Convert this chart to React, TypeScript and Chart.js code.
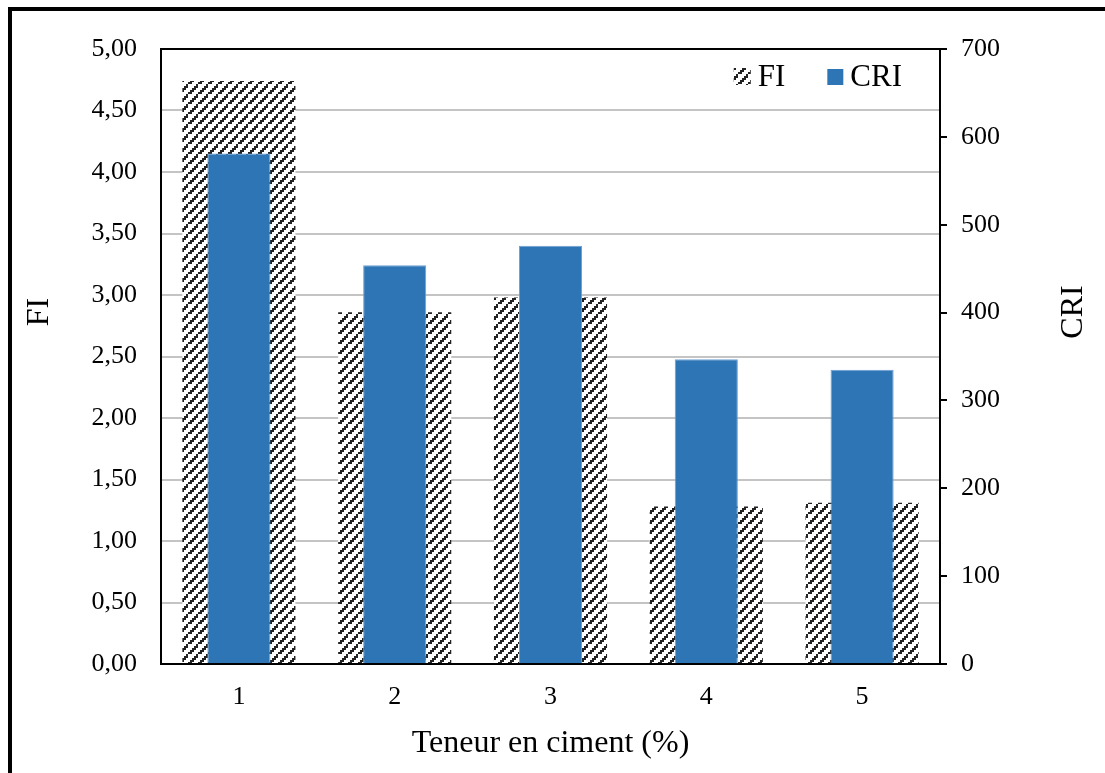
import React, { useEffect, useRef } from 'react';
import { Chart, registerables } from 'chart.js';

Chart.register(...registerables);

const categories = ['1', '2', '3', '4', '5'];
const fiValues = [4.74, 2.86, 2.98, 1.28, 1.31];
const criValues = [581, 454, 476, 347, 335];
const seriesNames = ['FI', 'CRI'];
const xTitle = 'Teneur en ciment (%)';
const leftTitle = 'FI';
const rightTitle = 'CRI';

const FONT = '"Liberation Serif", "Times New Roman", serif';
const BLUE = '#2E75B6';

function makePattern(ctx: CanvasRenderingContext2D): CanvasPattern {
  const cell = 2;
  const n = 5;
  const T = cell * n;
  const c = document.createElement('canvas');
  c.width = T;
  c.height = T;
  const g = c.getContext('2d') as CanvasRenderingContext2D;
  g.fillStyle = '#ffffff';
  g.fillRect(0, 0, T, T);
  g.fillStyle = '#222222';
  for (let cy = 0; cy < n; cy++) {
    for (let cx = 0; cx < n; cx++) {
      const s = (cx + cy) % n;
      if (s === 0 || (s === 1 && cy !== 2)) {
        g.fillRect(cx * cell, cy * cell, cell, cell);
      }
    }
  }
  return ctx.createPattern(c, 'repeat') as CanvasPattern;
}

export default function App() {
  const ref = useRef<HTMLCanvasElement | null>(null);

  useEffect(() => {
    const canvas = ref.current;
    if (!canvas) return;
    const ctx = canvas.getContext('2d') as CanvasRenderingContext2D;
    const pattern = makePattern(ctx);

    const overlay = {
      id: 'overlay',
      afterDraw(chart: any) {
        const c = chart.ctx as CanvasRenderingContext2D;
        const a = chart.chartArea;
        c.save();
        // top border of plot area
        c.strokeStyle = '#000';
        c.lineWidth = 2;
        c.beginPath();
        c.moveTo(a.left - 1, a.top);
        c.lineTo(a.right + 1, a.top);
        c.stroke();

        // axis titles (rotated, reading bottom to top)
        c.fillStyle = '#000';
        c.font = `32px ${FONT}`;
        c.textAlign = 'center';
        c.textBaseline = 'alphabetic';
        const midY = 312;
        c.save();
        c.translate(48, midY);
        c.rotate(-Math.PI / 2);
        c.fillText(leftTitle, 0, 0);
        c.restore();
        c.save();
        c.translate(1082, midY);
        c.rotate(-Math.PI / 2);
        c.fillText(rightTitle, 0, 0);
        c.restore();

        // legend inside plot area
        c.font = `31px ${FONT}`;
        c.textAlign = 'left';
        const baseY = a.top + 37;
        const wCRI = c.measureText(seriesNames[1]).width;
        const wFI = c.measureText(seriesNames[0]).width;
        const criTextX = a.right - 38 - wCRI;
        const criBoxX = criTextX - 7 - 16;
        const fiTextX = criBoxX - 42 - wFI;
        const fiBoxX = fiTextX - 7 - 17;
        c.fillStyle = pattern;
        c.fillRect(fiBoxX, baseY - 18, 17, 17);
        c.fillStyle = BLUE;
        c.fillRect(criBoxX, baseY - 17, 16, 16);
        c.fillStyle = '#000';
        c.fillText(seriesNames[0], fiTextX, baseY);
        c.fillText(seriesNames[1], criTextX, baseY);
        c.restore();
      },
    };

    const tickFont = { family: FONT, size: 26 };

    const chart = new Chart(canvas, {
      type: 'bar',
      data: {
        labels: categories,
        datasets: [
          {
            label: seriesNames[0],
            data: fiValues,
            yAxisID: 'y',
            backgroundColor: pattern as any,
            borderWidth: 0,
            grouped: false,
            categoryPercentage: 1,
            barPercentage: 0.726,
            order: 2,
          },
          {
            label: seriesNames[1],
            data: criValues,
            yAxisID: 'y1',
            backgroundColor: BLUE,
            borderColor: '#6d9fd3',
            borderWidth: 1,
            grouped: false,
            categoryPercentage: 1,
            barPercentage: 0.405,
            order: 1,
          },
        ],
      },
      options: {
        responsive: false,
        animation: false,
        layout: { padding: { top: 49, left: 0, right: 0, bottom: 0 } },
        plugins: {
          legend: { display: false },
          tooltip: { enabled: false },
        },
        scales: {
          x: {
            grid: { display: false, drawTicks: false },
            border: { color: '#000', width: 2 },
            ticks: { font: tickFont, color: '#000', padding: 18 },
            title: {
              display: true,
              text: xTitle,
              font: { family: FONT, size: 32 },
              color: '#000',
              padding: { top: 0, bottom: 10 },
            },
            afterFit: (s: any) => {
              s.height = 109;
            },
          },
          y: {
            position: 'left',
            min: 0,
            max: 5,
            ticks: {
              stepSize: 0.5,
              font: tickFont,
              color: '#000',
              padding: 24,
              callback: (v: any) => Number(v).toFixed(2).replace('.', ','),
            },
            grid: { color: '#c4c4c4', lineWidth: 2, drawTicks: false },
            border: { color: '#000', width: 2 },
            afterFit: (s: any) => {
              s.width = 161;
            },
          },
          y1: {
            position: 'right',
            min: 0,
            max: 700,
            ticks: { stepSize: 100, font: tickFont, color: '#000', padding: 14 },
            grid: { drawOnChartArea: false, drawTicks: true, tickLength: 7, color: '#000', lineWidth: 2 },
            border: { color: '#000', width: 2 },
            afterFit: (s: any) => {
              s.width = 165;
            },
          },
        },
      },
      plugins: [overlay],
    });

    return () => {
      chart.destroy();
    };
  }, []);

  return (
    <div style={{ position: 'absolute', left: 0, top: 0, width: 1105, height: 773, background: '#fff', overflow: 'hidden' }}>
      <div
        style={{
          position: 'absolute',
          left: 8,
          top: 7,
          width: 1200,
          height: 900,
          borderTop: '4px solid #000',
          borderLeft: '4px solid #000',
        }}
      />
      <canvas ref={ref} width={1105} height={773} style={{ position: 'absolute', left: 0, top: 0, width: 1105, height: 773 }} />
    </div>
  );
}
